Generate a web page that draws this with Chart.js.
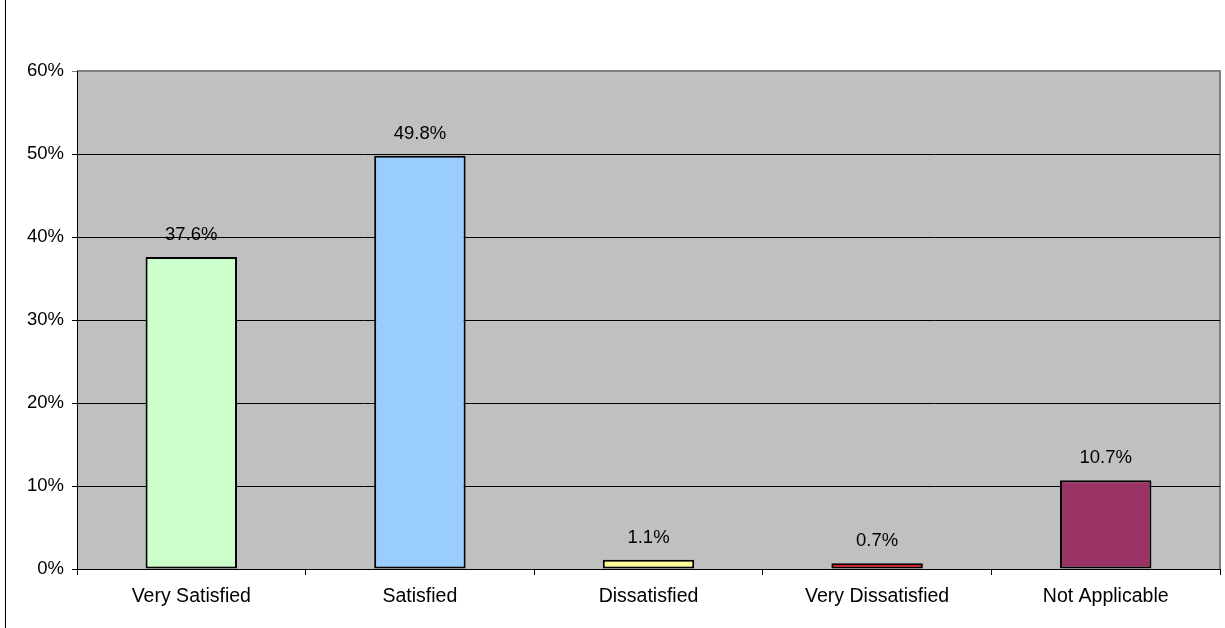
<!DOCTYPE html>
<html>
<head>
<meta charset="utf-8">
<script src="https://cdn.jsdelivr.net/npm/chart.js@4/dist/chart.umd.min.js"></script>
<style>
  html, body { margin: 0; padding: 0; background: #fff; }
  #wrap { position: relative; width: 1225px; height: 628px; }
  #frame { position: absolute; left: 5px; top: 0; width: 1px; height: 628px; background: #000; }
</style>
</head>
<body>
<div id="wrap">
  <canvas id="chart" width="1225" height="628"></canvas>
  <div id="frame"></div>
</div>
<script>
// Chart data
const categories = ["Very Satisfied", "Satisfied", "Dissatisfied", "Very Dissatisfied", "Not Applicable"];
const percents = [37.6, 49.8, 1.1, 0.7, 10.7];
const barColors = ["#CCFFCC", "#99CCFF", "#FFFF99", "#FF0000", "#993366"];
const yTicks = [0, 10, 20, 30, 40, 50, 60];

Chart.defaults.font.family = "'Liberation Sans', Arial, sans-serif";
Chart.defaults.font.size = 19;
Chart.defaults.color = "#000";

// grey plot background
const plotBackground = {
  id: "plotBackground",
  beforeDraw(chart) {
    const { ctx, chartArea } = chart;
    ctx.save();
    ctx.fillStyle = "#C0C0C0";
    ctx.fillRect(chartArea.left, chartArea.top, chartArea.right - chartArea.left, chartArea.bottom - chartArea.top);
    ctx.strokeStyle = "#808080";
    ctx.lineWidth = 2;
    ctx.beginPath();
    ctx.moveTo(chartArea.left, chartArea.top);
    ctx.lineTo(chartArea.right, chartArea.top);
    ctx.lineTo(chartArea.right, chartArea.bottom);
    ctx.stroke();
    ctx.restore();
  }
};

// value labels above each bar
const valueLabels = {
  id: "valueLabels",
  afterDatasetsDraw(chart) {
    const { ctx } = chart;
    const meta = chart.getDatasetMeta(0);
    ctx.save();
    ctx.font = "18.5px 'Liberation Sans', Arial, sans-serif";
    ctx.fillStyle = "#000";
    ctx.textAlign = "center";
    ctx.textBaseline = "alphabetic";
    meta.data.forEach((bar, i) => {
      ctx.fillText(percents[i].toFixed(1) + "%", bar.x, bar.y - 17);
    });
    ctx.restore();
  }
};

new Chart(document.getElementById("chart").getContext("2d"), {
  type: "bar",
  data: {
    labels: categories,
    datasets: [{
      data: percents,
      backgroundColor: barColors,
      borderColor: "#000",
      borderWidth: 2,
      borderSkipped: false,
      barPercentage: 0.4,
      categoryPercentage: 1
    }]
  },
  options: {
    responsive: false,
    animation: false,
    layout: { padding: { top: 71, right: 5, left: 0, bottom: 0 } },
    plugins: {
      legend: { display: false },
      tooltip: { enabled: false }
    },
    scales: {
      x: {
        offset: true,
        grid: {
          offset: true,
          drawOnChartArea: false,
          color: "#000",
          tickLength: 6
        },
        border: { color: "#000", width: 1 },
        ticks: { padding: 10, maxRotation: 0, font: { size: 19.5 } },
        afterFit(scale) { scale.height = 59; }
      },
      y: {
        min: 0,
        max: 60,
        afterBuildTicks(scale) { scale.ticks = yTicks.map(v => ({ value: v })); },
        ticks: {
          padding: 8,
          font: { size: 18.5 },
          callback: v => v + "%"
        },
        grid: {
          color: c => (c.tick && c.tick.value === 60 ? "#808080" : "#000"),
          tickLength: 5
        },
        border: { color: "#000", width: 1 },
        afterFit(scale) { scale.width = 77; }
      }
    }
  },
  plugins: [plotBackground, valueLabels]
});
</script>
</body>
</html>
